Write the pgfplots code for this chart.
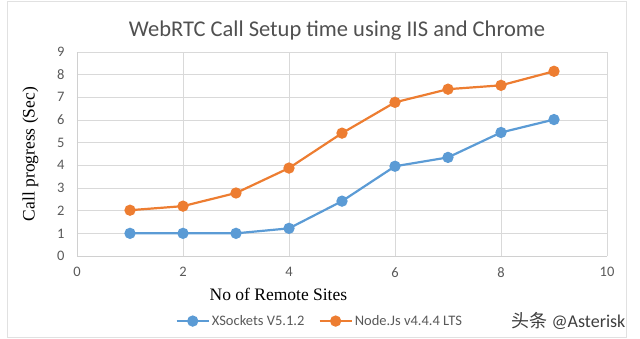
\documentclass[border=0pt]{standalone}
\usepackage{pgfplots}
\pgfplotsset{compat=1.18}
\usepackage{fontspec}
\setmainfont{Carlito}
\newfontfamily\timesfont{Liberation Serif}
\newfontfamily\cjk{Noto Sans CJK SC}
\definecolor{xblue}{HTML}{5B9BD5}
\definecolor{xorange}{HTML}{ED7D31}
\definecolor{tickgray}{HTML}{595959}
\definecolor{gridgray}{HTML}{D9D9D9}
\begin{document}
\begin{tikzpicture}[x=1pt,y=1pt]
\path[use as bounding box] (0,0) rectangle (640,338);
\draw[gridgray!80, line width=0.8pt] (7,1) rectangle (626,337);
\node[font=\fontsize{22.5}{26}\selectfont, text=tickgray!90!black] at (337,307) {WebRTC Call Setup time using IIS and Chrome};
\begin{axis}[
  at={(77pt,82pt)}, anchor=south west,
  scale only axis, width=530pt, height=204pt,
  xmin=0, xmax=10, ymin=0, ymax=9,
  xtick={0,2,...,10}, ytick={0,1,...,9},
  grid=major, grid style={gridgray, line width=0.7pt},
  axis line style={gridgray!90!gray, line width=0.8pt},
  axis x line*=bottom, axis y line*=left,
  tick style={draw=none},
  ticklabel style={font=\fontsize{14.5}{16}\selectfont, text=tickgray},
  /pgf/number format/assume math mode=true,
  xticklabel style={yshift=-8pt},
  yticklabel style={xshift=-9pt},
  xlabel={No of Remote Sites},
  xlabel style={font=\timesfont\fontsize{17.5}{20}\selectfont, at={(axis description cs:0.38,0)}, anchor=north, yshift=-29pt},
  ylabel={Call progress (Sec)},
  ylabel style={font=\timesfont\fontsize{17.5}{20}\selectfont, at={(axis description cs:0,0.5)}, anchor=south, yshift=35pt},
  legend style={at={(axis description cs:0.458,-0.319)}, anchor=center, draw=none, fill=none,
    legend columns=2, font=\fontsize{14.5}{16}\selectfont, text=tickgray,
    /tikz/every even column/.append style={column sep=12pt}},
  legend cell align=left,
  legend image code/.code={\draw[#1, line width=2.4pt] (0pt,0pt) -- (32pt,0pt); \fill[#1] (16pt,0pt) circle (4.5pt);},
]
\addplot[xblue, line width=2.2pt, mark=*, mark size=4.5pt] coordinates {
(1,1.0) (2,1.0) (3,1.0) (4,1.22) (5,2.42) (6,3.96) (7,4.35) (8,5.45) (9,6.02)};
\addlegendentry{XSockets V5.1.2}
\addplot[xorange, line width=2.2pt, mark=*, mark size=4.5pt] coordinates {
(1,2.02) (2,2.2) (3,2.78) (4,3.88) (5,5.42) (6,6.78) (7,7.36) (8,7.53) (9,8.15)};
\addlegendentry{Node.Js v4.4.4 LTS}
\end{axis}
\node[anchor=west, font=\fontsize{18}{20}\selectfont, text=tickgray!70!black] at (508,17) {{\cjk 头条} @Asterisk};
\end{tikzpicture}
\end{document}
